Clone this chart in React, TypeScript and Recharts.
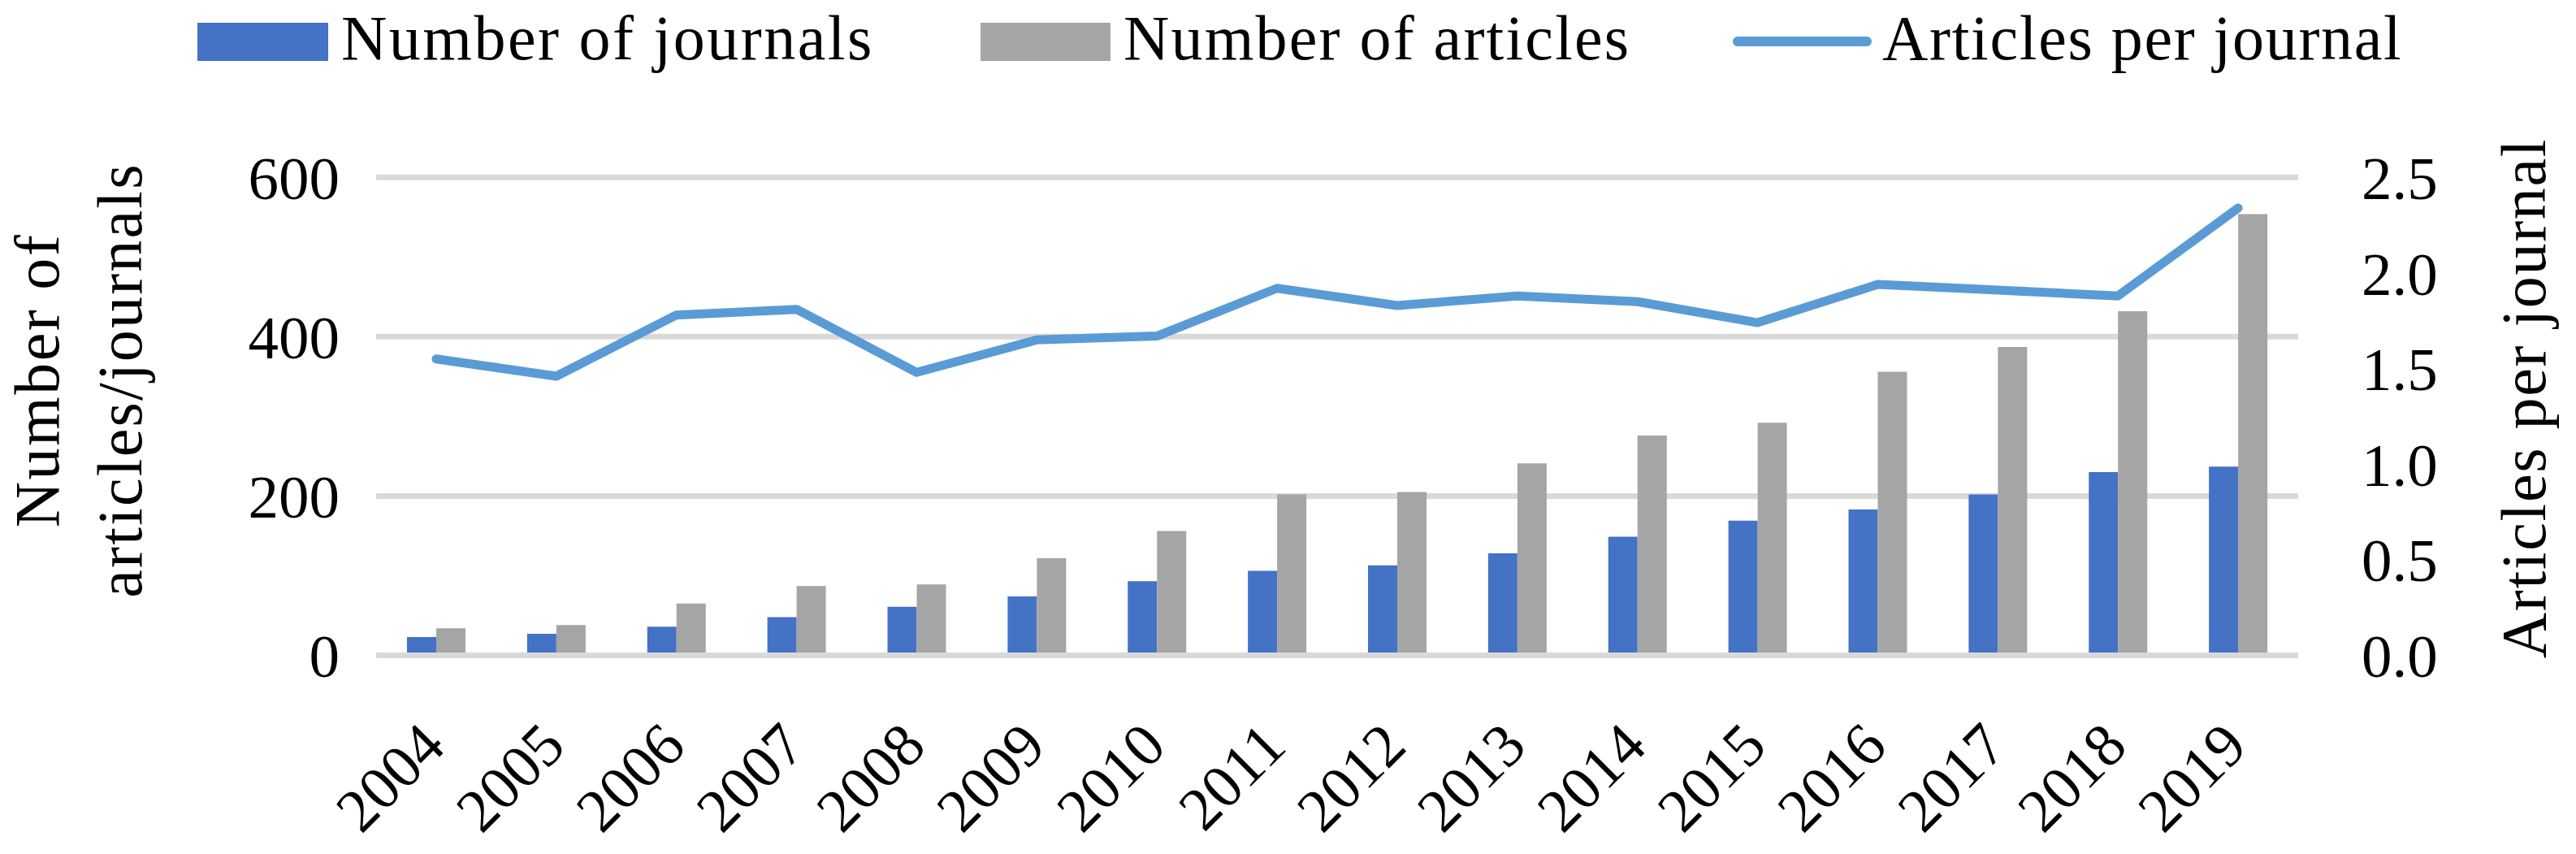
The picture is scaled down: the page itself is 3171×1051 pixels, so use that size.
import React from 'react';
import { ComposedChart, Bar, Line, XAxis, YAxis, CartesianGrid } from 'recharts';

const years = ['2004', '2005', '2006', '2007', '2008', '2009', '2010', '2011', '2012', '2013', '2014', '2015', '2016', '2017', '2018', '2019'];
const journals = [23, 27, 36, 48, 61, 74, 93, 106, 113, 128, 149, 169, 183, 202, 230, 237];
const articles = [34, 38, 65, 87, 89, 122, 156, 202, 205, 241, 276, 292, 356, 387, 432, 554];
const perJournal = [1.55, 1.46, 1.78, 1.81, 1.48, 1.65, 1.67, 1.92, 1.83, 1.88, 1.85, 1.74, 1.94, 1.91, 1.88, 2.34];
const leftTicks = [0, 200, 400, 600];
const rightTicks = [0, 0.5, 1, 1.5, 2, 2.5];
const seriesNames = ['Number of journals', 'Number of articles', 'Articles per journal'];
const leftTitle = ['Number of', 'articles/journals'];
const rightTitle = 'Articles per journal';

const FONT = '"Liberation Serif", "Times New Roman", serif';
const BLUE = '#4472c4';
const GRAY = '#a5a5a5';
const LINE = '#5b9bd5';
const GRID = '#d9d9d9';

const data = years.map((y, i) => ({ year: y, journals: journals[i], articles: articles[i], ratio: perJournal[i] }));

const XTick = (props: any) => {
  const { x, y, payload } = props;
  const ax = x + 14;
  const ay = y + 115;
  return (
    <text x={ax} y={ay} textAnchor="end" fontSize={75} fontFamily={FONT} fill="#000" transform={`rotate(-45, ${ax}, ${ay})`}>
      {payload.value}
    </text>
  );
};

export default function App() {
  return (
    <div style={{ position: 'absolute', left: 0, top: 0, width: 3171, height: 1051, background: '#fff' }}>
      <ComposedChart width={3171} height={1051} data={data} barGap={0} margin={{ top: 218.3, right: 0, bottom: 0, left: 0 }}>
        <CartesianGrid yAxisId="left" vertical={false} stroke={GRID} strokeWidth={7} />
        <XAxis dataKey="year" interval={0} height={244.5} tickSize={0} tickMargin={0} tickLine={false}
          axisLine={{ stroke: GRID, strokeWidth: 7 }} tick={<XTick />} />
        <YAxis yAxisId="left" orientation="left" width={463} domain={[0, 600]} ticks={leftTicks} axisLine={false}
          tickLine={false} tickSize={0} tickMargin={45} tick={{ fontSize: 75, fill: '#000', fontFamily: FONT }} />
        <YAxis yAxisId="right" orientation="right" width={342} domain={[0, 2.5]} ticks={rightTicks}
          tickFormatter={(v: number) => v.toFixed(1)} axisLine={false} tickLine={false} tickSize={0} tickMargin={78}
          tick={{ fontSize: 75, fill: '#000', fontFamily: FONT }} />
        <Bar yAxisId="left" dataKey="journals" name={seriesNames[0]} fill={BLUE} barSize={36} isAnimationActive={false} />
        <Bar yAxisId="left" dataKey="articles" name={seriesNames[1]} fill={GRAY} barSize={36} isAnimationActive={false} />
        <Line yAxisId="right" dataKey="ratio" name={seriesNames[2]} type="linear" stroke={LINE} strokeWidth={11}
          strokeLinecap="round" strokeLinejoin="round" dot={false} activeDot={false} isAnimationActive={false} />
      </ComposedChart>
      <svg width={3171} height={1051} style={{ position: 'absolute', left: 0, top: 0, pointerEvents: 'none' }}>
        <g fontFamily={FONT} fontSize={78} fill="#000">
          <rect x={243} y={28} width={161} height={47} fill={BLUE} />
          <text x={420} y={73} letterSpacing={2.5}>{seriesNames[0]}</text>
          <rect x={1207} y={28} width={160} height={47} fill={GRAY} />
          <text x={1383} y={73} letterSpacing={2.2}>{seriesNames[1]}</text>
          <line x1={2139} y1={51} x2={2298} y2={51} stroke={LINE} strokeWidth={12} strokeLinecap="round" />
          <text x={2317} y={73} letterSpacing={1.7}>{seriesNames[2]}</text>
          <text x={72} y={468} textAnchor="middle" letterSpacing={2.5} transform="rotate(-90, 72, 468)">{leftTitle[0]}</text>
          <text x={174} y={468} textAnchor="middle" letterSpacing={2.2} transform="rotate(-90, 174, 468)">{leftTitle[1]}</text>
          <text x={3133} y={490} textAnchor="middle" letterSpacing={1.7} transform="rotate(-90, 3133, 490)">{rightTitle}</text>
        </g>
      </svg>
    </div>
  );
}
